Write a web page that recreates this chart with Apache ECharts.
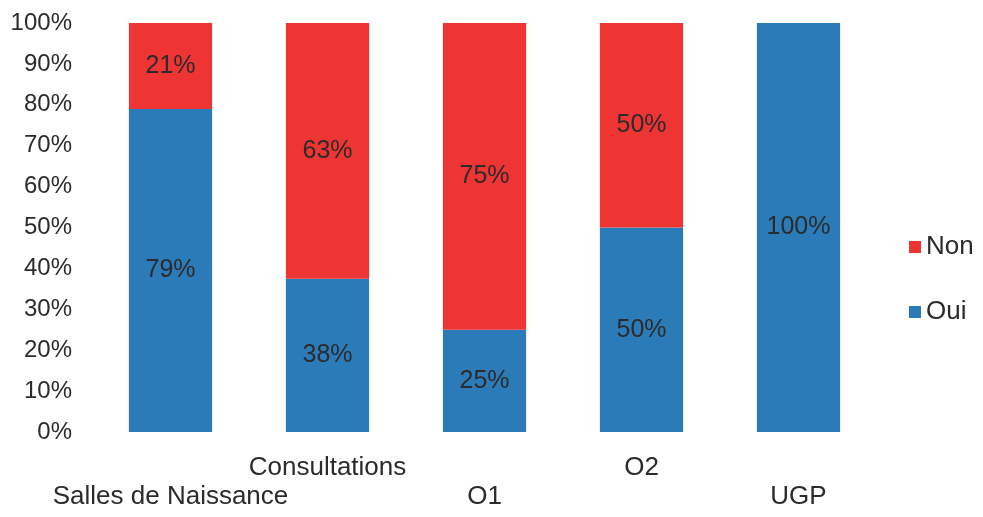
<!DOCTYPE html>
<html>
<head>
<meta charset="utf-8">
<script src="https://cdn.jsdelivr.net/npm/echarts@6/dist/echarts.min.js"></script>
<style>
  html, body { margin: 0; padding: 0; background: #ffffff; }
  #chart { width: 983px; height: 517px; }
</style>
</head>
<body>
<div id="chart"></div>
<script>
var categories = ['Salles de Naissance', 'Consultations', 'O1', 'O2', 'UGP'];
var ouiValues = [79, 37.5, 25, 50, 100];
var nonValues = [21, 62.5, 75, 50, 0];
var yTicks = [0, 10, 20, 30, 40, 50, 60, 70, 80, 90, 100];

(function() {
  var red = '#ef3434';
  var blue = '#2b7bb9';
  var ink = '#2b2b2b';
  var font = 'Liberation Sans, Arial, sans-serif';

  var chart = echarts.init(document.getElementById('chart'), null, { renderer: 'canvas' });

  var segLabel = {
    show: true,
    position: 'inside',
    color: ink,
    fontFamily: font,
    fontSize: 25,
    formatter: function(p) { return p.value > 0 ? Math.round(p.value) + '%' : ''; }
  };

  chart.setOption({
    animation: false,
    textStyle: { fontFamily: font },
    grid: { left: 92, top: 23, width: 785, height: 409 },
    legend: {
      orient: 'vertical',
      left: 904,
      top: 229,
      itemWidth: 12,
      itemHeight: 12,
      itemGap: 39,
      icon: 'rect',
      data: ['Non', 'Oui'],
      textStyle: { color: ink, fontSize: 26, fontFamily: font }
    },
    xAxis: {
      type: 'category',
      data: categories,
      axisLine: { show: false },
      axisTick: { show: false },
      axisLabel: {
        interval: 0,
        margin: 21,
        color: ink,
        fontSize: 26,
        lineHeight: 29,
        fontFamily: font,
        formatter: function(v, i) { return i % 2 === 0 ? '\n' + v : v; }
      }
    },
    yAxis: {
      type: 'value',
      min: 0,
      max: 100,
      interval: 10,
      axisLine: { show: false },
      axisTick: { show: false },
      splitLine: { show: false },
      axisLabel: {
        margin: 20,
        color: ink,
        fontSize: 24,
        fontFamily: font,
        formatter: function(v) { return yTicks.indexOf(v) >= 0 ? v + '%' : ''; }
      }
    },
    series: [
      {
        name: 'Oui',
        type: 'bar',
        stack: 'total',
        barWidth: '53%',
        data: ouiValues,
        itemStyle: { color: blue },
        label: segLabel
      },
      {
        name: 'Non',
        type: 'bar',
        stack: 'total',
        barWidth: '53%',
        data: nonValues,
        itemStyle: { color: red },
        label: segLabel
      }
    ]
  });

  window.addEventListener('resize', function() { chart.resize(); });
})();
</script>
</body>
</html>
